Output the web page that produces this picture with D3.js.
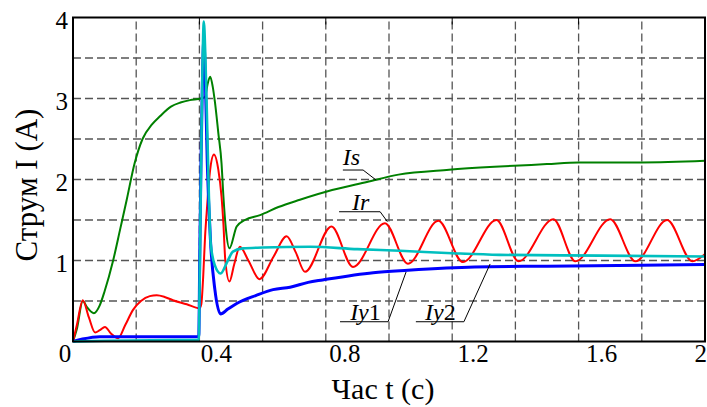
<!DOCTYPE html>
<html>
<head>
<meta charset="utf-8">
<script src="https://cdn.jsdelivr.net/npm/d3@7"></script>
<style>
  body { margin: 0; background: #fff; }
  svg text { font-family: "Liberation Serif", "DejaVu Serif", serif; }
</style>
</head>
<body>
<script>
var width = 707,
    height = 407;

// series: [time (s), current (A)]
var isData = [[0,0],[0.012,0.15],[0.031,0.5],[0.045,0.42],[0.066,0.35],[0.085,0.45],[0.1,0.62],
  [0.127,1.0],[0.15,1.4],[0.17,1.75],[0.195,2.2],[0.22,2.5],[0.25,2.68],[0.275,2.78],[0.31,2.9],
  [0.34,2.95],[0.37,2.98],[0.405,3.0],[0.418,3.02],[0.426,3.18],[0.434,3.27],[0.442,3.15],
  [0.449,2.96],[0.46,2.57],[0.47,2.2],[0.476,1.79],[0.484,1.38],[0.495,1.15],[0.518,1.42],
  [0.544,1.5],[0.592,1.56],[0.65,1.66],[0.718,1.75],[0.82,1.87],[0.93,1.97],[1.03,2.06],
  [1.19,2.12],[1.35,2.16],[1.5,2.19],[1.6,2.21],[1.8,2.21],[2.0,2.23]];

var irData = [[0,0],[0.012,0.2],[0.031,0.51],[0.05,0.3],[0.07,0.11],[0.085,0.14],[0.101,0.18],
  [0.12,0.1],[0.143,0.04],[0.165,0.2],[0.19,0.39],[0.215,0.5],[0.243,0.56],[0.265,0.57],
  [0.29,0.55],[0.316,0.51],[0.36,0.46],[0.4,0.41],[0.406,0.46],[0.412,0.8],[0.418,1.3],
  [0.423,1.59],[0.434,2.12],[0.446,2.31],[0.46,2.12],[0.47,1.79],[0.476,1.45],[0.482,1.0],
  [0.495,0.74],[0.51,0.95],[0.528,1.17],[0.555,1.0],[0.59,0.77],[0.635,1.05],[0.676,1.3],
  [0.705,1.1],[0.734,0.86],[0.818,1.42],[0.886,0.92],[0.987,1.46],[1.06,0.96],[1.156,1.49],
  [1.234,0.98],[1.34,1.5],[1.41,0.99],[1.52,1.51],[1.59,0.99],[1.70,1.51],[1.78,0.99],
  [1.88,1.5],[1.96,0.99],[2.0,1.08]];

var iy1Data = [[0,0],[0.03,0.03],[0.085,0.06],[0.2,0.06],[0.398,0.06],[0.401,1.0],[0.405,2.2],
  [0.41,3.3],[0.414,3.72],[0.419,3.2],[0.425,2.2],[0.435,1.25],[0.449,0.64],[0.467,0.34],
  [0.49,0.4],[0.518,0.47],[0.58,0.57],[0.633,0.64],[0.687,0.67],[0.744,0.73],[0.79,0.76],
  [0.95,0.85],[1.06,0.88],[1.27,0.92],[1.5,0.93],[2.0,0.95]];

var iy2Data = [[0,0],[0.1,0.01],[0.398,0.02],[0.4,0.5],[0.404,1.8],[0.409,3.2],[0.414,3.95],
  [0.419,3.5],[0.425,2.6],[0.43,1.8],[0.436,1.2],[0.449,0.94],[0.467,0.84],[0.49,1.0],
  [0.506,1.11],[0.538,1.15],[0.6,1.16],[0.75,1.17],[0.9,1.14],[1.035,1.12],[1.2,1.09],
  [1.35,1.07],[1.67,1.06],[2.0,1.05]];

var xTicks = [0, 0.4, 0.8, 1.2, 1.6, 2];
var yTicks = [1, 2, 3, 4];
var xGrid = d3.range(0, 2.01, 0.2);
var yGrid = d3.range(0, 4.01, 0.5);

// label text, text anchor point, underline start/end, leader end (data units)
var notes = [
  {name: "Is",  sub: "",  at: [0.854, 2.18],  line: [[0.854, 2.117], [0.918, 2.117], [0.959, 1.994]]},
  {name: "Ir",  sub: "",  at: [0.883, 1.625], line: [[0.842, 1.602], [0.972, 1.602], [0.995, 1.479]]},
  {name: "Iy",  sub: "1", at: [0.877, 0.26],  line: [[0.845, 0.244], [0.997, 0.244], [1.054, 0.858]]},
  {name: "Iy",  sub: "2", at: [1.114, 0.26],  line: [[1.085, 0.244], [1.237, 0.244], [1.32, 0.957]]}
];

var svg = d3.select("body").append("svg")
            .attr("width", width)
            .attr("height", height);

var x = d3.scaleLinear().domain([0, 2]).range([73, 705]);
var y = d3.scaleLinear().domain([0, 4]).range([341.5, 17.5]);

// grid
svg.append("g").selectAll("line")
   .data(xGrid.slice(1, -1))
   .enter().append("line")
   .attr("x1", d => x(d)).attr("x2", d => x(d))
   .attr("y1", y(0)).attr("y2", y(4))
   .attr("stroke", "#555").attr("stroke-width", 1.3)
   .attr("stroke-dasharray", "8,4");

svg.append("g").selectAll("line")
   .data(yGrid.slice(1, -1))
   .enter().append("line")
   .attr("x1", x(0)).attr("x2", x(2))
   .attr("y1", d => y(d)).attr("y2", d => y(d))
   .attr("stroke", "#555").attr("stroke-width", 1.3)
   .attr("stroke-dasharray", "8,4");

// inward ticks
svg.append("g").selectAll("line")
   .data(xTicks).enter().append("line")
   .attr("x1", d => x(d)).attr("x2", d => x(d))
   .attr("y1", y(4)).attr("y2", y(4) + 7)
   .attr("stroke", "#000");

// curves
var line = d3.line()
             .x(d => x(d[0]))
             .y(d => y(d[1]))
             .curve(d3.curveMonotoneX);

var series = [
  {data: isData,  color: "#008000", w: 2},
  {data: irData,  color: "#ff0000", w: 2},
  {data: iy1Data, color: "#0000ff", w: 3},
  {data: iy2Data, color: "#00bfbf", w: 2.6}
];

svg.append("g").selectAll("path")
   .data(series).enter().append("path")
   .attr("d", d => line(d.data))
   .attr("fill", "none")
   .attr("stroke", d => d.color)
   .attr("stroke-width", d => d.w)
   .attr("stroke-linejoin", "round");

// frame
svg.append("rect")
   .attr("x", x(0)).attr("y", y(4))
   .attr("width", x(2) - x(0)).attr("height", y(0) - y(4))
   .attr("fill", "none").attr("stroke", "#000").attr("stroke-width", 2);

// tick labels
svg.append("g").selectAll("text")
   .data(xTicks).enter().append("text")
   .attr("x", d => d === 0 ? x(d) - 8 : d === 2 ? 707 : x(d) + 15 + 5 * d)
   .attr("y", 362)
   .attr("text-anchor", d => d === 2 ? "end" : "middle")
   .style("font-size", "25px")
   .text(d => d);

svg.append("g").selectAll("text")
   .data(yTicks).enter().append("text")
   .attr("x", 68)
   .attr("y", d => y(d) + 11)
   .attr("text-anchor", "end")
   .style("font-size", "25px")
   .text(d => d);

// axis titles
svg.append("text")
   .attr("x", 383).attr("y", 399)
   .attr("text-anchor", "middle")
   .style("font-size", "30px")
   .text("Час t (с)");

svg.append("text")
   .attr("transform", "translate(37,185) rotate(-90)")
   .attr("text-anchor", "middle")
   .style("font-size", "31px")
   .text("Струм I (A)");

// annotations
var lead = d3.line().x(d => x(d[0])).y(d => y(d[1]));

svg.append("g").selectAll("path")
   .data(notes).enter().append("path")
   .attr("d", d => lead(d.line))
   .attr("fill", "none")
   .attr("stroke", "#000")
   .attr("stroke-width", 1);

var labels = svg.append("g").selectAll("text")
   .data(notes).enter().append("text")
   .attr("x", d => x(d.at[0]))
   .attr("y", d => y(d.at[1]))
   .style("font-size", "24px");

labels.append("tspan").style("font-style", "italic").text(d => d.name);
labels.append("tspan").text(d => d.sub);
</script>
</body>
</html>
